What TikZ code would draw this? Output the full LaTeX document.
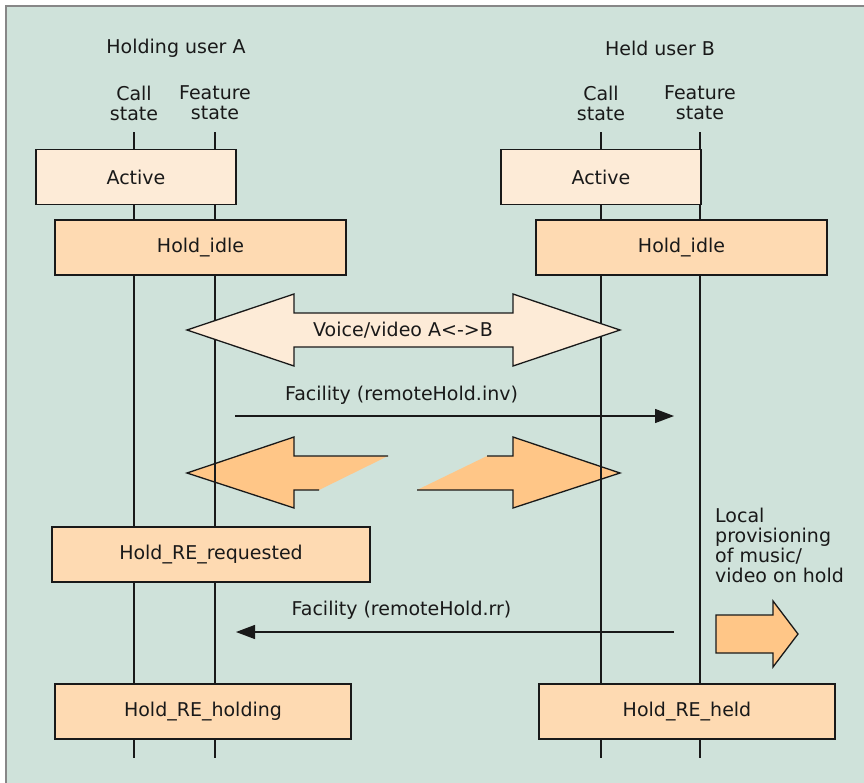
\documentclass[tikz,border=0pt]{standalone}
\usepackage{fontspec}
\setmainfont{DejaVu Sans}
\usetikzlibrary{arrows.meta}

\definecolor{panelbg}{RGB}{207,226,218}
\definecolor{frameline}{RGB}{135,135,135}
\definecolor{activefill}{RGB}{253,235,215}
\definecolor{holdfill}{RGB}{254,218,178}
\definecolor{mediafill}{RGB}{255,198,135}
\definecolor{ink}{RGB}{25,25,25}

\tikzset{
  lifeline/.style={draw=ink, line width=1.3pt},
  statebox/.style={draw=ink, line width=1.5pt, rectangle, inner sep=0pt,
    minimum height=55pt, font=\fontsize{19}{20}\selectfont, text=ink},
  activebox/.style={statebox, fill=activefill, minimum width=200pt},
  holdbox/.style={statebox, fill=holdfill},
  label/.style={inner sep=0pt, align=center, text=ink,
    font=\fontsize{19}{20}\selectfont},
  shapeline/.style={draw=ink, line width=1.3pt, line join=miter},
  message/.style={draw=ink, line width=1.3pt,
    -{Triangle[length=19pt,width=14pt]}},
}

\begin{document}
\begin{tikzpicture}[x=1pt, y=-1pt]
  \useasboundingbox (0,0) rectangle (864,782);

  % panel and its frame (open on the right and at the bottom)
  \fill[white] (0,0) rectangle (870,790);
  \fill[panelbg] (6,6) rectangle (870,790);
  \draw[frameline, line width=2.5pt] (6,790) -- (6,6) -- (870,6);

  % party headings
  \node[label] (hA) at (176,48) {Holding user A};
  \node[label] (hB) at (660,48) {Held user B};
  \node[label] (lAc) at (134,103) {Call\\state};
  \node[label] (lAf) at (215,103) {Feature\\state};
  \node[label] (lBc) at (601,103) {Call\\state};
  \node[label] (lBf) at (700,103) {Feature\\state};

  % lifeline end points
  \coordinate (acT) at (134,132); \coordinate (acB) at (134,758);
  \coordinate (afT) at (215,132); \coordinate (afB) at (215,758);
  \coordinate (bcT) at (601,132); \coordinate (bcB) at (601,758);
  \coordinate (bfT) at (700,132); \coordinate (bfB) at (700,758);

  % media flow stopped while on hold (drawn under the lifelines)
  \fill[mediafill] (187,473) -- (294,437) -- (294,456) -- (388,456)
    -- (319,490) -- (294,490) -- (294,508) -- cycle;
  \draw[shapeline] (388,456) -- (294,456) -- (294,437) -- (187,473)
    -- (294,508) -- (294,490) -- (319,490);
  \fill[mediafill] (417,490) -- (487,456) -- (513,456) -- (513,437)
    -- (620,473) -- (513,508) -- (513,490) -- cycle;
  \draw[shapeline] (487,456) -- (513,456) -- (513,437) -- (620,473)
    -- (513,508) -- (513,490) -- (417,490);

  % lifelines
  \draw[lifeline] (acT) -- (acB);
  \draw[lifeline] (afT) -- (afB);
  \draw[lifeline] (bcT) -- (bcB);
  \draw[lifeline] (bfT) -- (bfB);

  % states of user A
  \node[activebox] (actA) at (136,177) {Active};
  \node[holdbox, minimum width=291pt] (idleA) at (200.5,247.5) {Hold\_idle};
  \node[holdbox, minimum width=318pt] (reqA) at (211,554.5) {Hold\_RE\_requested};
  \node[holdbox, minimum width=296pt] (holdA) at (203,711.5) {Hold\_RE\_holding};

  % states of user B
  \node[activebox] (actB) at (601,177) {Active};
  \node[holdbox, minimum width=291pt] (idleB) at (681.5,247.5) {Hold\_idle};
  \node[holdbox, minimum width=296pt] (heldB) at (687,711.5) {Hold\_RE\_held};

  % two-way voice/video path
  \filldraw[shapeline, fill=activefill] (187,330) -- (294,294) -- (294,313)
    -- (513,313) -- (513,294) -- (620,330) -- (513,366) -- (513,347)
    -- (294,347) -- (294,366) -- cycle;
  \node[label] (media) at (403,330) {Voice/video A<->B};

  % facility messages
  \coordinate (invS) at (235,416); \coordinate (invE) at (674,416);
  \draw[message] (invS) -- (invE);
  \node[label] (invL) at (401.5,395) {Facility (remoteHold.inv)};

  \coordinate (rrS) at (674,632); \coordinate (rrE) at (236,632);
  \draw[message] (rrS) -- (rrE);
  \node[label] (rrL) at (401.5,610) {Facility (remoteHold.rr)};

  % local music/video on hold at B
  \node[label, align=left, anchor=north west] (localL) at (715,508)
    {Local\\provisioning\\of music/\\video on hold};
  \filldraw[shapeline, fill=mediafill] (716,615) -- (773,615) -- (773,601)
    -- (798,634) -- (773,667) -- (773,653) -- (716,653) -- cycle;
\end{tikzpicture}
\end{document}
